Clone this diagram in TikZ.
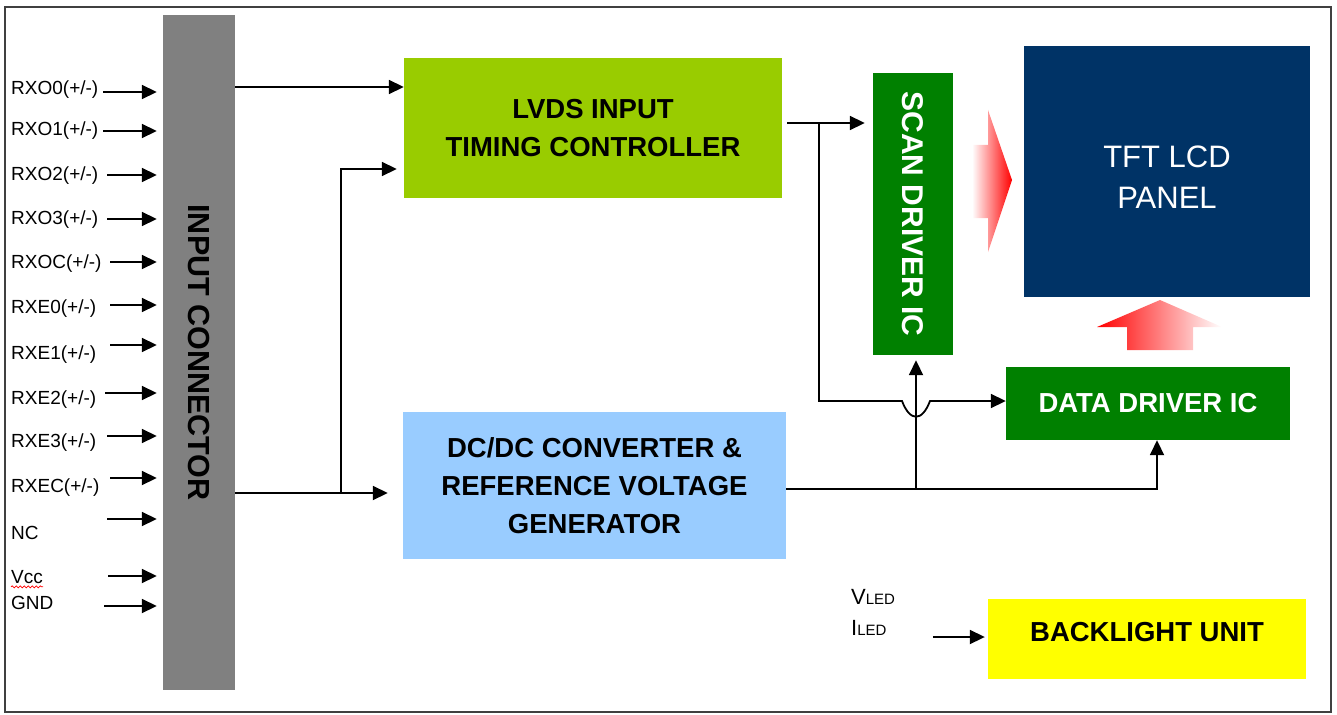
\documentclass[tikz,border=0pt]{standalone}
\usepackage{fontspec}
\usepackage{graphicx}
\setmainfont{Liberation Sans}
\usetikzlibrary{arrows.meta,decorations.pathmorphing}
\definecolor{framegray}{HTML}{404040}
\definecolor{conngray}{HTML}{808080}
\definecolor{lvdsgreen}{HTML}{99CC00}
\definecolor{dcblue}{HTML}{99CCFF}
\definecolor{drvgreen}{HTML}{008000}
\definecolor{panelblue}{HTML}{003366}
\definecolor{blyellow}{HTML}{FFFF00}
\begin{document}
\begin{tikzpicture}[x=1pt,y=-1pt,
  >={Triangle[length=15pt,width=14pt]},
  sig/.style={line width=1.8pt,->},
  blk/.style={inner sep=0pt,align=center,font=\bfseries\fontsize{27.5}{38}\selectfont},
  pin/.style={inner sep=0pt,anchor=west,font=\fontsize{19}{19}\selectfont}]
\useasboundingbox (0,0) rectangle (1337,714);
\draw[line width=2pt,framegray] (5,7) rectangle (1331,712);

% blocks
\node[blk,fill=conngray,minimum width=72pt,minimum height=675pt] (inconn) at (199,352.5)
  {\rotatebox{-90}{\fontsize{30.5}{32}\selectfont INPUT CONNECTOR}};
\node[blk,fill=lvdsgreen,minimum width=378pt,minimum height=140pt] (lvds) at (593,128)
  {LVDS INPUT\\TIMING CONTROLLER};
\node[blk,fill=dcblue,minimum width=383pt,minimum height=147pt] (dcdc) at (594.5,485.5)
  {DC/DC CONVERTER \&\\REFERENCE VOLTAGE\\GENERATOR};
\node[blk,fill=drvgreen,text=white,minimum width=80pt,minimum height=282pt] (scan) at (913,214)
  {\rotatebox{-90}{\fontsize{30}{32}\selectfont SCAN DRIVER IC}};
\node[fill=panelblue,minimum width=286pt,minimum height=251pt] (panel) at (1167,171.5) {};
\node[inner sep=0pt,align=center,text=white,font=\fontsize{31}{41}\selectfont] (paneltxt)
  at (1167,177.5) {TFT LCD\\PANEL};
\node[blk,fill=drvgreen,text=white,minimum width=284pt,minimum height=73pt] (data) at (1148,403.5)
  {DATA DRIVER IC};
\node[fill=blyellow,minimum width=318pt,minimum height=80pt] (backl) at (1147,639) {};
\node[blk] (bltxt) at (1147,632) {BACKLIGHT UNIT};

% input pins
\foreach \lab/\ly/\ay/\ax [count=\i] in {{RXO0(+/-)}/90/92/103,{RXO1(+/-)}/131/131/103,
  {RXO2(+/-)}/176/175/107,{RXO3(+/-)}/220/219/107,{RXOC(+/-)}/264/262/110,
  {RXE0(+/-)}/309/305/110,{RXE1(+/-)}/355/345/110,{RXE2(+/-)}/400/393/105,
  {RXE3(+/-)}/443/436/107,{RXEC(+/-)}/488/478/110,NC/533/519/107,Vcc/577/576/108,GND/603/606/104}
{
  \node[pin] (pin\i) at (11,\ly) {\lab};
  \coordinate (src\i) at (\ax,\ay);
  \draw[sig,shorten >=6pt] (src\i) -- (src\i -| inconn.west);
}
\draw[red,line width=0.8pt,decorate,decoration={snake,amplitude=1pt,segment length=4pt}]
  ([yshift=-3pt]pin12.south west) -- ([yshift=-3pt]pin12.south east);

% signal lines
\coordinate (lvdsinA) at ([yshift=41pt]lvds.west);
\coordinate (lvdsinB) at ([yshift=-41pt]lvds.west);
\coordinate (dcin) at ([yshift=-7.5pt]dcdc.west);
\coordinate (brA) at (341,493);
\draw[sig] (lvdsinA -| inconn.east) -- (lvdsinA);
\draw[sig,shorten >=15pt] (dcin -| inconn.east) -- (dcin);
\draw[sig,shorten >=7pt] (brA) |- (lvdsinB);

\coordinate (lvdsout) at ([yshift=5pt]lvds.east);
\coordinate (brB) at (819,123);
\coordinate (hopL) at (902,401);
\coordinate (hopR) at (930,401);
\draw[sig,shorten <=5pt,shorten >=8pt] (lvdsout) -- (lvdsout -| scan.west);
\draw[sig] (brB) |- (hopL) .. controls (910,422) and (922,422) .. (hopR) -- (hopR -| data.west);

\coordinate (dcout) at ([yshift=-3.5pt]dcdc.east);
\coordinate (brC) at (916,489);
\draw[sig] (dcout) -| ([xshift=9pt]data.south);
\draw[sig,shorten >=5pt] (brC) -- (brC |- scan.south);

% flow hints
\shade[left color=white,right color=red] (972,145) -- (988,145) -- (988,110) -- (1012,180)
  -- (988,252) -- (988,218) -- (972,218) -- cycle;
\shade[left color=red,right color=white] (1127,350) -- (1127,327) -- (1097,327) -- (1160,300)
  -- (1222,327) -- (1193,327) -- (1193,350) -- cycle;

% backlight supply
\node[inner sep=0pt,anchor=west] (vled) at (851,597)
  {\fontsize{22}{22}\selectfont V\fontsize{15}{15}\selectfont LED};
\node[inner sep=0pt,anchor=west] (iled) at (851,628)
  {\fontsize{22}{22}\selectfont I\fontsize{15}{15}\selectfont LED};
\coordinate (blin) at ([yshift=2pt]backl.west);
\draw[sig,shorten >=3pt] ([xshift=-55pt]blin) -- (blin);
\end{tikzpicture}
\end{document}
